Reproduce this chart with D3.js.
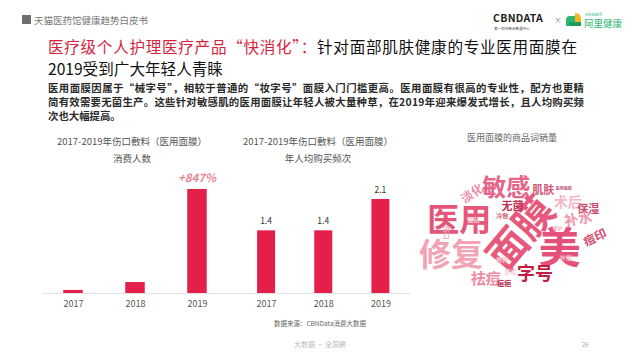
<html>
<head>
  <meta charset="utf-8">
  <title>医用面膜</title>
  <script src="https://d3js.org/d3.v7.min.js"></script>
  <style>
    body { margin: 0; background: #fff; }
    text { font-family: "Noto Sans CJK SC", "Noto Sans", sans-serif; }
  </style>
</head>
<body>
<script>
// data
var years = ["2017", "2018", "2019"];
var users = [0.28, 1.0, 9.47];          // 消费人数, index 2018 = 1
var usersNote = "+847%";
var freq = [1.4, 1.4, 2.1];             // 年人均购买频次
var cloudWords = ["医用", "面膜", "美", "修复", "敏感", "淡化", "肌肤", "术后", "保湿", "补水", "痘印", "无菌", "冷敷", "字号", "祛痘", "痘疤", "伤口", "面贴", "敷料", "舒缓", "补湿", "修护", "医用面膜"];
var cloudSize = [32, 40, 42, 32, 24, 12, 11, 14, 11, 14, 12, 11, 6, 18, 15, 7, 7, 6, 6, 6, 6, 5, 4];
var cloudColor = ["#e4577a", "#e8587c", "#e4507a", "#f3a3b6", "#e66488", "#ef8fa5", "#cf5a78", "#f4b8c6", "#c94a6c", "#eb97ad", "#d24a6e", "#bf3159", "#d06a84", "#c41c40", "#ef8aa4", "#b8284e", "#f0b0c0", "#f5c8d4", "#f5c5d0", "#f8d0da", "#f5c0ce", "#f3b0c2", "#c06080"];
// layout of the cloud, in percent of the cloud box
var cloudX = [24, 53, 73, 20, 47, 30, 65, 77, 87, 82, 90, 50, 45, 61, 37, 46, 18, 31, 45, 49, 76, 72, 75];
var cloudY = [40, 52, 63, 69, 14, 20, 17, 27, 33, 41, 56, 30, 39, 85, 90, 94, 53, 42, 75, 85, 73, 49, 16];
var cloudRot = [0, -50, 0, 0, 0, -35, 0, 0, 0, -10, -25, 0, 0, 0, 0, 0, 90, 0, 0, 0, 0, 0, 0];

var width = 640, height = 360;
var red = "#e31f4a";

var svg = d3.select("body").append("svg")
  .attr("width", width)
  .attr("height", height);

// header
svg.append("rect").attr("x", 22).attr("y", 15).attr("width", 9).attr("height", 9).attr("fill", "#6f6f6f");
svg.append("text").attr("x", 34).attr("y", 23.5)
  .attr("font-size", 9.5).attr("fill", "#777")
  .text("天猫医药馆健康趋势白皮书");

// logos
svg.append("text").attr("x", 493).attr("y", 22)
  .attr("font-size", 10.5).attr("font-weight", "bold").attr("fill", "#222")
  .attr("font-family", "Liberation Sans, sans-serif").attr("letter-spacing", 0.3)
  .text("CBNDATA");
svg.append("text").attr("x", 494).attr("y", 30)
  .attr("font-size", 3.6).attr("fill", "#444")
  .text("第一财经商业数据中心");
svg.append("text").attr("x", 554).attr("y", 23)
  .attr("font-size", 8).attr("fill", "#888").text("×");
var logo = svg.append("g").attr("transform", "translate(566,13)");
logo.append("path").attr("d", "M0,7 Q0,3 4,3 L9,3 L9,13 L0,13 Z").attr("fill", "#2bb673");
logo.append("path").attr("d", "M9,0 Q15,0 15,6 L15,13 L9,13 Z").attr("fill", "#f6b41e");
logo.append("rect").attr("x", 3).attr("y", 9).attr("width", 12).attr("height", 4).attr("fill", "#1e9b5a");
svg.append("text").attr("x", 585).attr("y", 16)
  .attr("font-size", 4).attr("fill", "#2bb673")
  .attr("font-family", "Liberation Sans, sans-serif").text("AliHealth");
svg.append("text").attr("x", 584).attr("y", 27)
  .attr("font-size", 9.5).attr("fill", "#2bb673").text("阿里健康");

// title
var t1 = svg.append("text").attr("x", 48).attr("y", 53).attr("font-size", 15.6)
  .attr("textLength", 529).attr("lengthAdjust", "spacing");
t1.append("tspan").attr("fill", "#d6243e").text("医疗级个人护理医疗产品“快消化”：");
t1.append("tspan").attr("fill", "#111").text("针对面部肌肤健康的专业医用面膜在");
svg.append("text").attr("x", 48).attr("y", 75).attr("font-size", 15.6).attr("fill", "#111")
  .text("2019受到广大年轻人青睐");

// paragraph
var para = [
  "医用面膜因属于“械字号”，相较于普通的“妆字号”面膜入门门槛更高。医用面膜有很高的专业性，配方也更精",
  "简有效需要无菌生产。这些针对敏感肌的医用面膜让年轻人被大量种草，在2019年迎来爆发式增长，且人均购买频",
  "次也大幅提高。"
];
svg.selectAll(".para").data(para).enter().append("text")
  .attr("class", "para")
  .attr("x", 48)
  .attr("y", function(d, i) { return 92 + i * 14; })
  .attr("font-size", 10.4).attr("font-weight", "bold").attr("fill", "#2a2a2a")
  .each(function(d, i) {
    if (i < 2) d3.select(this).attr("textLength", 536).attr("lengthAdjust", "spacing");
  })
  .text(function(d) { return d; });

// bar chart helper
function barChart(opts) {
  var g = svg.append("g");
  var x = d3.scalePoint().domain(years).range(opts.xr).padding(0.5);
  var y = d3.scaleLinear().domain([0, d3.max(opts.values)]).range([293, opts.top]);

  g.append("text").attr("x", opts.cx).attr("y", 145)
    .attr("text-anchor", "middle").attr("font-size", 9.5).attr("fill", "#555")
    .text("2017-2019年伤口敷料（医用面膜）");
  g.append("text").attr("x", opts.cx).attr("y", 162)
    .attr("text-anchor", "middle").attr("font-size", 9.5).attr("fill", "#555")
    .text(opts.sub);

  g.append("line").attr("x1", opts.axis[0]).attr("x2", opts.axis[1])
    .attr("y1", 293.5).attr("y2", 293.5).attr("stroke", "#e2e2e2");

  g.selectAll("rect").data(opts.values).enter().append("rect")
    .attr("x", function(d, i) { return x(years[i]) - opts.bw / 2; })
    .attr("y", function(d) { return y(d); })
    .attr("width", opts.bw)
    .attr("height", function(d) { return 293 - y(d); })
    .attr("fill", red);

  var axis = d3.axisBottom(x).tickSize(0).tickPadding(8);
  var ag = g.append("g").attr("transform", "translate(0,293)").call(axis);
  ag.select(".domain").remove();
  ag.selectAll("text").attr("font-size", 9).attr("fill", "#555")
    .attr("font-family", "Roboto, sans-serif");
  return { g: g, x: x, y: y };
}

var c1 = barChart({ values: users, xr: [42, 228], top: 189, bw: 19.5, cx: 132, axis: [42, 234], sub: "消费人数" });
c1.g.append("text")
  .attr("x", c1.x(years[2])).attr("y", c1.y(users[2]) - 7)
  .attr("text-anchor", "middle").attr("font-size", 11.5)
  .attr("font-style", "italic").attr("font-weight", "bold")
  .attr("font-family", "Roboto, sans-serif")
  .attr("fill", "#e98593").text(usersNote);

var c2 = barChart({ values: freq, xr: [237.5, 409], top: 199, bw: 18, cx: 318, axis: [230, 410], sub: "年人均购买频次" });
c2.g.selectAll(".val").data(freq).enter().append("text")
  .attr("x", function(d, i) { return c2.x(years[i]); })
  .attr("y", function(d) { return c2.y(d) - 6; })
  .attr("text-anchor", "middle").attr("font-size", 8.5).attr("fill", "#333")
  .attr("font-family", "Roboto, sans-serif")
  .text(function(d) { return d3.format(".1f")(d); });

// word cloud
svg.append("text").attr("x", 512).attr("y", 141)
  .attr("text-anchor", "middle").attr("font-size", 9).attr("fill", "#666")
  .text("医用面膜的商品词销量");
var wx = d3.scaleLinear().domain([0, 100]).range([410, 615]);
var wy = d3.scaleLinear().domain([0, 100]).range([168, 290]);
svg.append("g").selectAll("text").data(cloudWords).enter().append("text")
  .attr("transform", function(d, i) {
    return "translate(" + wx(cloudX[i]) + "," + wy(cloudY[i]) + ") rotate(" + cloudRot[i] + ")";
  })
  .attr("text-anchor", "middle")
  .attr("dominant-baseline", "central")
  .attr("font-size", function(d, i) { return cloudSize[i]; })
  .attr("font-weight", "bold")
  .attr("fill", function(d, i) { return cloudColor[i]; })
  .text(function(d) { return d; });

// footer
svg.append("text").attr("x", 320).attr("y", 326)
  .attr("text-anchor", "middle").attr("font-size", 6.5).attr("fill", "#666")
  .text("数据来源：CBNData消费大数据");
svg.append("text").attr("x", 320).attr("y", 347)
  .attr("text-anchor", "middle").attr("font-size", 7).attr("fill", "#bbb")
  .text("大数据 · 全洞察");
svg.append("text").attr("x", 585).attr("y", 347)
  .attr("text-anchor", "middle").attr("font-size", 6).attr("fill", "#aaa")
  .text("26");
</script>
</body>
</html>
